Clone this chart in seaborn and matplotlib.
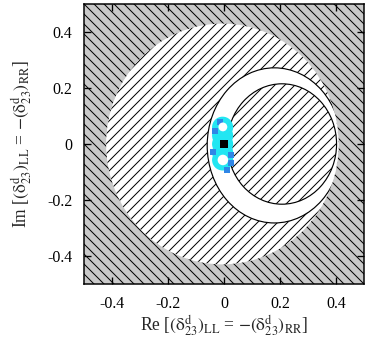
import numpy as np
import pandas as pd
import matplotlib
matplotlib.use("Agg")
import matplotlib.pyplot as plt
from matplotlib.patches import Ellipse, Rectangle
import seaborn as sns

# ---- data ----
# excluded/allowed regions as ellipses: centre x, centre y, semi-axis x, semi-axis y
big_region = [-0.006, 0.0, 0.415, 0.43]
crescent_outer = [0.18, -0.005, 0.24, 0.277]
crescent_inner = [0.207, 0.0, 0.195, 0.215]

cyan_x = [-0.005, -0.005, -0.005, -0.005, -0.005]
cyan_y = [0.060, 0.030, 0.000, -0.030, -0.057]
blue_x = [-0.014, -0.032, 0.025, 0.025, 0.011, -0.039]
blue_y = [0.079, 0.046, -0.039, -0.068, -0.093, -0.029]
hole_x = [-0.004, -0.004]
hole_y = [0.061, -0.057]
best_x = [0.0]
best_y = [0.0]

xticks = [-0.4, -0.2, 0.0, 0.2, 0.4]
yticks = [-0.4, -0.2, 0.0, 0.2, 0.4]
tick_labels = ["-0.4", "-0.2", "0", "0.2", "0.4"]

# ---- style ----
sns.set_style("ticks")
plt.rcParams["font.family"] = ["Liberation Serif", "DejaVu Serif"]
plt.rcParams["mathtext.fontset"] = "stix"
plt.rcParams["hatch.linewidth"] = 0.6

DPI = 120
fig = plt.figure(figsize=(365 / DPI, 338 / DPI), dpi=DPI)
ax = fig.add_axes([84 / 365, (338 - 284) / 338, 280 / 365, 280 / 338])

# gray hatched background (excluded region)
ax.add_patch(Rectangle((0, 0), 1, 1, transform=ax.transAxes, facecolor="#c9c9c9",
                       edgecolor="black", linewidth=0, hatch="\\\\\\\\", zorder=0))
big = Ellipse((big_region[0], big_region[1]), 2 * big_region[2], 2 * big_region[3],
              facecolor="white", edgecolor="black", linewidth=0, hatch="////", zorder=1)
ax.add_patch(big)
outer = Ellipse((crescent_outer[0], crescent_outer[1]), 2 * crescent_outer[2], 2 * crescent_outer[3],
                facecolor="white", edgecolor="black", linewidth=0.7, zorder=2)
ax.add_patch(outer)
outer.set_clip_path(big)
inner = Ellipse((crescent_inner[0], crescent_inner[1]), 2 * crescent_inner[2], 2 * crescent_inner[3],
                facecolor="white", edgecolor="black", linewidth=0.7, hatch="////", zorder=3)
ax.add_patch(inner)
inner.set_clip_path(big)

df_c = pd.DataFrame({"x": cyan_x, "y": cyan_y})
df_b = pd.DataFrame({"x": blue_x, "y": blue_y})
df_h = pd.DataFrame({"x": hole_x, "y": hole_y})
df_p = pd.DataFrame({"x": best_x, "y": best_y})
sns.scatterplot(data=df_c, x="x", y="y", ax=ax, s=160, color="#22e6f2", edgecolor="none",
                linewidth=0, zorder=5)
sns.scatterplot(data=df_b, x="x", y="y", ax=ax, s=16, marker="s", color="#2f86e6",
                edgecolor="none", linewidth=0, zorder=6)
sns.scatterplot(data=df_h, x="x", y="y", ax=ax, s=[28, 40], color="white", edgecolor="none",
                linewidth=0, zorder=7, legend=False)
sns.scatterplot(data=df_p, x="x", y="y", ax=ax, s=24, marker="s", color="black",
                edgecolor="none", linewidth=0, zorder=8)

ax.set_xlim(-0.5, 0.5)
ax.set_ylim(-0.5, 0.5)
ax.set_xticks(xticks)
ax.set_yticks(yticks)
ax.set_xticklabels(tick_labels)
ax.set_yticklabels(tick_labels)
ax.tick_params(direction="in", top=True, right=True, length=4, width=0.8,
               labelsize=9.5, pad=7, colors="black")
for sp in ax.spines.values():
    sp.set_visible(True)
    sp.set_linewidth(0.9)
    sp.set_color("black")
    sp.set_zorder(10)

lab = r"[$(\mathrm{\delta}^{\rm d}_{23})_{\rm LL}$ = $-(\mathrm{\delta}^{\rm d}_{23})_{\rm RR}$]"
ax.set_xlabel("Re " + lab, fontsize=10.5, labelpad=1)
ax.set_ylabel("Im " + lab, fontsize=10.5, labelpad=8)

fig.savefig("out.png", dpi=DPI)
